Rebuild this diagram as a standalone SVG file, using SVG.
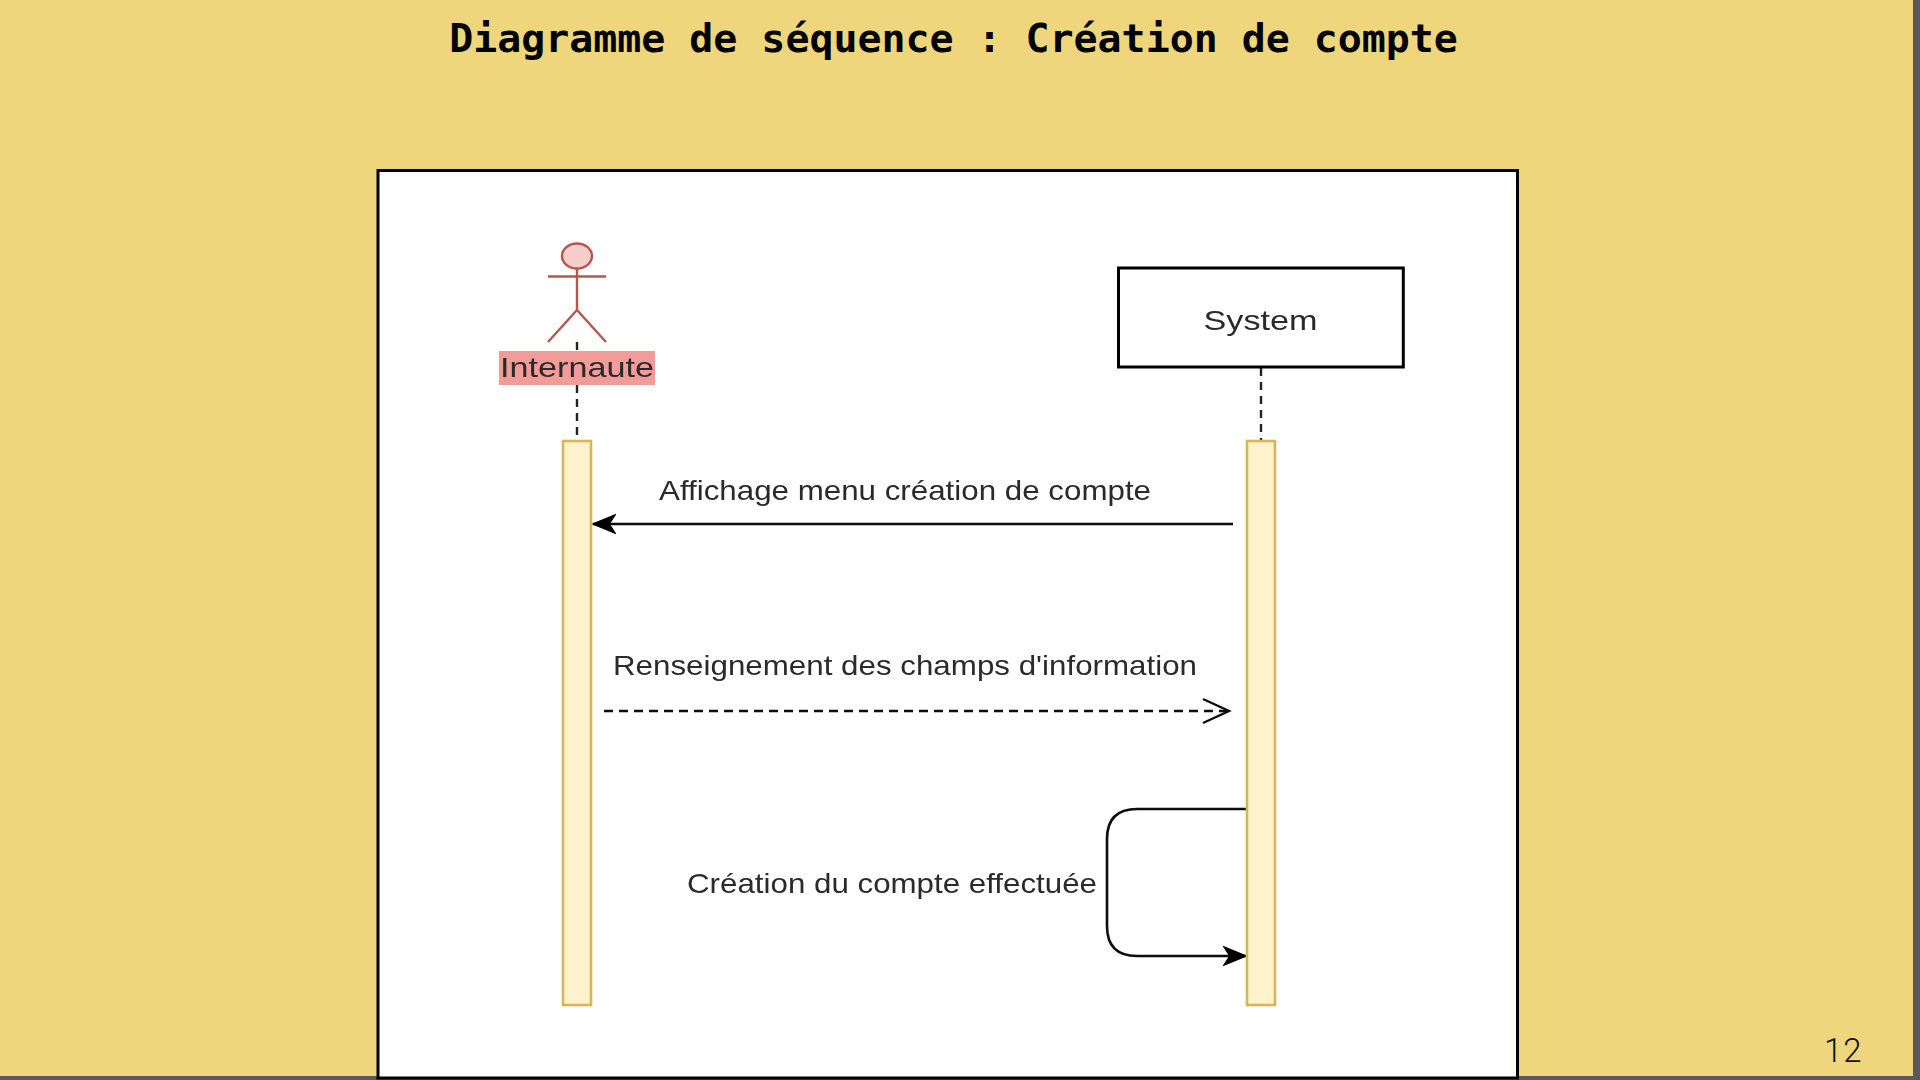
<svg xmlns="http://www.w3.org/2000/svg" width="1920" height="1080" viewBox="0 0 1920 1080">
<style>
.lbl{font-family:"Liberation Sans",Arial,sans-serif;font-size:28px;fill:#2b2b2b}
.life{fill:none;stroke:#222;stroke-width:2.4;stroke-dasharray:8 6}
.act{fill:#fff2cc;stroke:#d6b656;stroke-width:2.6}
.msg{fill:none;stroke:#111;stroke-width:2.6}
.actor{fill:none;stroke:#b85450;stroke-width:2.4}
.soft{filter:url(#soft)}
</style>
<defs>
<filter id="soft" x="-5%" y="-5%" width="110%" height="110%"><feGaussianBlur stdDeviation="0.6"/></filter>
<marker id="solid" markerUnits="userSpaceOnUse" markerWidth="26" markerHeight="24" refX="23" refY="12" orient="auto"><path d="M1 3 L23 12 L1 21 L7 12 Z" fill="#000" stroke="#000" stroke-width="1.5"/></marker>
<marker id="open" markerUnits="userSpaceOnUse" markerWidth="30" markerHeight="30" refX="27" refY="15" orient="auto"><path d="M1 3 L27 15 L1 27" fill="none" stroke="#111" stroke-width="2.4"/></marker>
</defs>
<rect width="1920" height="1080" fill="#efd67c"/>
<rect x="1913" y="0" width="7" height="1080" fill="#595959"/>
<rect x="0" y="1076" width="1920" height="4" fill="#595959"/>
<text id="title" x="953.500" y="52" text-anchor="middle" font-family="'DejaVu Sans Mono','Liberation Mono',monospace" font-weight="700" font-size="39.900" fill="#000">Diagramme de séquence : Création de compte</text>
<rect id="frame" x="378" y="170.500" width="1139.500" height="907.500" fill="#fff" stroke="#000" stroke-width="3"/>
<g class="soft">
<g id="connectors">
<path class="life" d="M577 342V351M577 385V440"/>
<path class="life" d="M1261 368V440"/>
<path class="msg" d="M1233 524H593" marker-end="url(#solid)"/>
<path class="msg" d="M604 711H1229" stroke-dasharray="9 6" marker-end="url(#open)"/>
<path class="msg" d="M1252 809H1137Q1107 809 1107 839V926Q1107 956 1137 956H1246" marker-end="url(#solid)"/>
</g>
<g id="actor-internaute">
<ellipse cx="577" cy="256" rx="15" ry="12.500" fill="#f8cecc" stroke="#b85450" stroke-width="2.400"/>
<path class="actor" d="M577 268.500V310M548 276.500H606M548 342L577 310L606 342"/>
<rect x="499" y="351" width="156" height="34" fill="#f19c99"/>
<text class="lbl" x="577" y="376.500" text-anchor="middle" textLength="154" lengthAdjust="spacingAndGlyphs">Internaute</text>
</g>
<g id="system">
<rect x="1118.500" y="268" width="284.800" height="99" fill="#fff" stroke="#000" stroke-width="3"/>
<text class="lbl" x="1260.500" y="330" text-anchor="middle" textLength="114" lengthAdjust="spacingAndGlyphs">System</text>
</g>
<g id="activation-internaute"><rect class="act" x="563" y="441" width="28" height="564"/></g>
<g id="activation-system"><rect class="act" x="1247" y="441" width="28" height="564"/></g>
<g id="labels">
<text class="lbl" x="659" y="500" textLength="492" lengthAdjust="spacingAndGlyphs">Affichage menu création de compte</text>
<text class="lbl" x="613" y="675" textLength="584" lengthAdjust="spacingAndGlyphs">Renseignement des champs d'information</text>
<text class="lbl" x="687" y="893" textLength="410" lengthAdjust="spacingAndGlyphs">Création du compte effectuée</text>
</g>
</g>
<text id="page" x="1824" y="1062" font-family="Roboto,'Liberation Sans',sans-serif" font-weight="300" font-size="33" letter-spacing="1" fill="#111">12</text>
</svg>
